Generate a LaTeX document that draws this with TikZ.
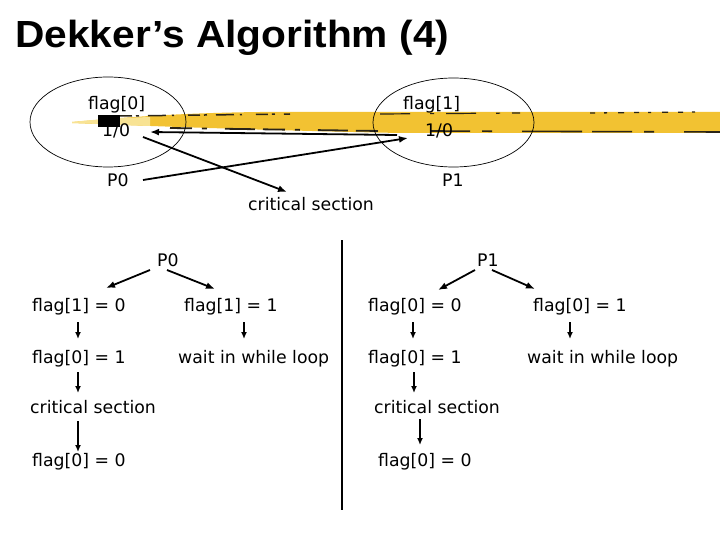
\documentclass[tikz,border=0pt]{standalone}
\usepackage{fontspec}
\setmainfont{DejaVu Sans}
\newfontfamily\titlefont{Liberation Sans}
\usetikzlibrary{arrows.meta,calc,shapes.geometric}
\definecolor{gold}{HTML}{F2C232}
\definecolor{paleyel}{HTML}{F8E394}
\definecolor{smudge}{HTML}{2A2418}
\begin{document}
\begin{tikzpicture}[x=1pt,y=-1pt,
  lbl/.style={inner sep=0pt,anchor=base west,font=\fontsize{17.3}{20}\selectfont},
  arr/.style={line width=1.8pt,-{Latex[length=9pt,width=7pt]}},
  sarr/.style={line width=1.6pt,-{Latex[length=7pt,width=6pt]}},
  oval/.style={draw,ellipse,line width=0.7pt,inner sep=0pt}]
\useasboundingbox (0,0) rectangle (720,540);
% title
\node[inner sep=0pt,anchor=base west] (title) at (15,48)
  {\scalebox{1.13}[1.05]{\titlefont\bfseries\fontsize{36}{40}\selectfont Dekker’s Algorithm (4)}};
% yellow brush stroke
\fill[gold] (72,122) .. controls (130,117) and (180,113) .. (260,112)
  -- (720,112) -- (720,133) -- (400,133)
  .. controls (250,130) and (150,126) .. (72,123) -- cycle;
\fill[paleyel] (72,122) .. controls (100,119) and (120,118) .. (150,117)
  -- (150,126) .. controls (120,125) and (100,124) .. (72,123) -- cycle;
\fill[black] (98,115) rectangle (120,127);
\draw[smudge,line width=1.5pt,dash pattern=on 12pt off 4pt on 3pt off 9pt on 18pt off 6pt on 2pt off 14pt] (120,116) -- (290,114);
\draw[smudge,line width=1.8pt,dash pattern=on 22pt off 10pt on 5pt off 18pt on 30pt off 8pt] (170,128) -- (380,131);
\draw[smudge,line width=1.2pt,dash pattern=on 30pt off 20pt on 4pt off 12pt] (380,114) -- (520,113);
\draw[smudge,line width=1.3pt,dash pattern=on 5pt off 9pt on 3pt off 11pt on 6pt off 10pt] (590,113) -- (700,112);
\draw[smudge,line width=1.6pt,dash pattern=on 40pt off 12pt on 10pt off 30pt on 60pt off 10pt] (430,131) -- (720,132);
% ellipses
\node[oval,minimum width=156pt,minimum height=90pt] (e0) at (108,122) {};
\node[oval,minimum width=161pt,minimum height=89pt] (e1) at (453.5,122.5) {};
% upper labels
\node[lbl] (f0) at (88,110) {flag[0]};
\node[lbl] (v0) at (102,137) {1/0};
\node[lbl] (f1) at (403,110) {flag[1]};
\node[lbl] (v1) at (425,137) {1/0};
\node[lbl] (p0u) at (107,187) {P0};
\node[lbl] (p1u) at (442,187) {P1};
\node[lbl] (csu) at (248,211) {critical section};
% upper arrows
\draw[arr] ($(v1.base west)+(-28,-2)$) -- ($(v0.base west)+(48,-5)$);
\draw[arr] ($(p0u.base west)+(36,-7)$) -- ($(v1.base west)+(-17,1)$);
\draw[arr] ($(v0.base west)+(41,0)$) -- ($(csu.base west)+(39,-19)$);
% separator
\coordinate (vt) at (342,240);
\coordinate (vb) at (342,510);
\draw[line width=1.2pt] (vt) -- (vb);
% lower left
\node[lbl] (p0) at (157,266) {P0};
\node[lbl] (l1a) at (32,311) {flag[1] = 0};
\node[lbl] (l1b) at (184,311) {flag[1] = 1};
\node[lbl] (l2a) at (32,363) {flag[0] = 1};
\node[lbl] (l2b) at (178,363) {wait in while loop};
\node[lbl] (l3) at (30,413) {critical section};
\node[lbl] (l4) at (32,466) {flag[0] = 0};
% lower right
\node[lbl] (p1) at (477,266) {P1};
\node[lbl] (r1a) at (368,311) {flag[0] = 0};
\node[lbl] (r1b) at (533,311) {flag[0] = 1};
\node[lbl] (r2a) at (368,363) {flag[0] = 1};
\node[lbl] (r2b) at (527,363) {wait in while loop};
\node[lbl] (r3) at (374,413) {critical section};
\node[lbl] (r4) at (378,466) {flag[0] = 0};
% lower arrows
\draw[arr] ($(p0.base west)+(-7,4)$) -- ($(l1a.base west)+(74,-23)$);
\draw[arr] ($(p0.base west)+(10,4)$) -- ($(l1b.base west)+(31,-22)$);
\draw[arr] ($(p1.base west)+(-2,4)$) -- ($(r1a.base west)+(70,-21)$);
\draw[arr] ($(p1.base west)+(15,4)$) -- ($(r1b.base west)+(2,-22)$);
\draw[sarr] ($(l1a.base west)+(46,11)$) -- ($(l2a.base west)+(46,-24)$);
\draw[sarr] ($(l1b.base west)+(60,11)$) -- ($(l2b.base west)+(66,-24)$);
\draw[sarr] ($(r1a.base west)+(45,11)$) -- ($(r2a.base west)+(45,-24)$);
\draw[sarr] ($(r1b.base west)+(37,11)$) -- ($(r2b.base west)+(43,-24)$);
\draw[sarr] ($(l2a.base west)+(46,9)$) -- ($(l3.base west)+(48,-20)$);
\draw[sarr] ($(r2a.base west)+(46,9)$) -- ($(r3.base west)+(40,-20)$);
\draw[sarr] ($(l3.base west)+(48,8)$) -- ($(l4.base west)+(46,-14)$);
\draw[sarr] ($(r3.base west)+(46,6)$) -- ($(r4.base west)+(42,-21)$);
\end{tikzpicture}
\end{document}
